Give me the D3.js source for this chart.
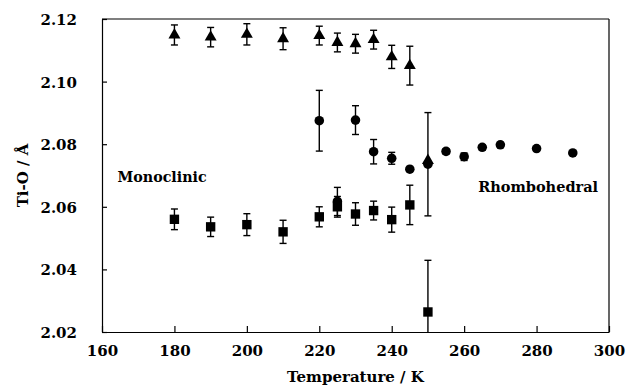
<!DOCTYPE html>
<html>
<head>
<meta charset="utf-8">
<script src="https://cdn.jsdelivr.net/npm/d3@7"></script>
<style>
  html, body { margin: 0; padding: 0; background: #fff; }
</style>
</head>
<body>
<svg id="chart" width="639" height="386"></svg>
<script>
// Ti-O bond length vs temperature: three distance series with error bars
const xTicks = [160, 180, 200, 220, 240, 260, 280, 300];
const yTicks = [2.02, 2.04, 2.06, 2.08, 2.10, 2.12];

// long Ti-O distance (triangles)
const triTemp = [180, 190, 200, 210, 220, 225, 230, 235, 240, 245, 250];
const triVal  = [2.1149, 2.1142, 2.1151, 2.1137, 2.1147, 2.1125, 2.1121, 2.1134, 2.1079, 2.1051, 2.0748];
const triErr  = [0.0032, 0.0031, 0.0034, 0.0035, 0.0030, 0.0030, 0.0030, 0.0030, 0.0037, 0.0062, 0];

// middle Ti-O distance (circles)
const cirTemp = [220, 225, 230, 235, 240, 245, 250, 255, 260, 265, 270, 280, 290];
const cirVal  = [2.0875, 2.0617, 2.0877, 2.0776, 2.0755, 2.0720, 2.0736, 2.0777, 2.0760, 2.0790, 2.0798, 2.0786, 2.0772];
const cirErr  = [0.0097, 0.0045, 0.0046, 0.0039, 0.0019, 0, 0.0165, 0.0008, 0.0012, 0.0008, 0.0008, 0.0006, 0.0006];

// short Ti-O distance (squares)
const sqTemp = [180, 190, 200, 210, 220, 225, 230, 235, 240, 245, 250];
const sqVal  = [2.0560, 2.0536, 2.0543, 2.0520, 2.0568, 2.0600, 2.0577, 2.0588, 2.0559, 2.0606, 2.0264];
const sqErr  = [0.0033, 0.0031, 0.0035, 0.0037, 0.0032, 0.0033, 0.0036, 0.0030, 0.0040, 0.0063, 0.0165];

const phaseLabels = [
  { text: "Monoclinic", t: 164.3, v: 2.0678, anchor: "start", len: 89 },
  { text: "Rhombohedral", t: 297, v: 2.0646, anchor: "end", len: 120 }
];

const FONT = "DejaVu Serif, Liberation Serif, serif";

const margin = { left: 102, right: 30, top: 19, bottom: 54 };
const W = 639, H = 386;
const svg = d3.select("#chart");

const x = d3.scaleLinear().domain([160, 300]).range([margin.left, W - margin.right]);
const y = d3.scaleLinear().domain([2.02, 2.12]).range([H - margin.bottom, margin.top]);

function serif(sel, size) {
  return sel.attr("font-family", FONT).attr("font-weight", "bold")
    .attr("font-size", size).attr("fill", "#000");
}

svg.append("defs").append("clipPath").attr("id", "plotclip")
  .append("rect")
  .attr("x", x(160)).attr("y", y(2.12))
  .attr("width", x(300) - x(160)).attr("height", y(2.02) - y(2.12));

// frame: top and right edges
svg.append("line").attr("x1", x(160)).attr("x2", x(300)).attr("y1", y(2.12)).attr("y2", y(2.12))
  .attr("stroke", "#000").attr("stroke-width", 1.2);
svg.append("line").attr("x1", x(300)).attr("x2", x(300)).attr("y1", y(2.12)).attr("y2", y(2.02))
  .attr("stroke", "#000").attr("stroke-width", 1.2);

// x axis, ticks pointing into the plot
const gx = svg.append("g").attr("transform", `translate(0,${y(2.02)})`)
  .call(d3.axisBottom(x).tickValues(xTicks).tickSizeInner(-6).tickSizeOuter(0).tickFormat(d3.format("d")));
serif(gx, 15);
gx.selectAll("text").attr("dy", null).attr("y", 24);

// y axis, ticks pointing into the plot
const gy = svg.append("g").attr("transform", `translate(${x(160)},0)`)
  .call(d3.axisLeft(y).tickValues(yTicks).tickSizeInner(-5).tickSizeOuter(0).tickFormat(d3.format(".2f")));
serif(gy, 15);
gy.selectAll("text").attr("dy", "0.36em").attr("x", -25);

[gx, gy].forEach(g => {
  g.select(".domain").attr("stroke", "#000").attr("stroke-width", 1.2);
  g.selectAll(".tick line").attr("stroke", "#000").attr("stroke-width", 1.2);
});

// axis titles
serif(svg.append("text").attr("x", (x(160) + x(300)) / 2).attr("y", 382)
  .attr("text-anchor", "middle").text("Temperature / K"), 15);
serif(svg.append("text")
  .attr("transform", `translate(28,${(y(2.02) + y(2.12)) / 2}) rotate(-90)`)
  .attr("text-anchor", "middle").text("Ti-O / Å"), 15);

const plot = svg.append("g").attr("clip-path", "url(#plotclip)");

function errorBars(temps, vals, errs) {
  const g = plot.append("g").attr("stroke", "#000").attr("stroke-width", 1.4);
  temps.forEach((t, i) => {
    if (!errs[i]) return;
    const cx = x(t), y1 = y(vals[i] + errs[i]), y2 = y(vals[i] - errs[i]);
    g.append("line").attr("x1", cx).attr("x2", cx).attr("y1", y1).attr("y2", y2);
    g.append("line").attr("x1", cx - 3.5).attr("x2", cx + 3.5).attr("y1", y1).attr("y2", y1);
    g.append("line").attr("x1", cx - 3.5).attr("x2", cx + 3.5).attr("y1", y2).attr("y2", y2);
  });
}

errorBars(sqTemp, sqVal, sqErr);
errorBars(cirTemp, cirVal, cirErr);
errorBars(triTemp, triVal, triErr);

const sqSym = d3.symbol().type(d3.symbolSquare).size(88);
const cirSym = d3.symbol().type(d3.symbolCircle).size(72);
const triSym = d3.symbol().type(d3.symbolTriangle).size(62);

plot.append("g").selectAll("path").data(sqTemp).join("path")
  .attr("d", sqSym).attr("fill", "#000")
  .attr("transform", (t, i) => `translate(${x(t)},${y(sqVal[i])})`);
plot.append("g").selectAll("path").data(cirTemp).join("path")
  .attr("d", cirSym).attr("fill", "#000")
  .attr("transform", (t, i) => `translate(${x(t)},${y(cirVal[i])})`);
plot.append("g").selectAll("path").data(triTemp).join("path")
  .attr("d", triSym).attr("fill", "#000")
  .attr("transform", (t, i) => `translate(${x(t)},${y(triVal[i])})`);

// phase annotations
serif(svg.append("g").selectAll("text").data(phaseLabels).join("text")
  .attr("x", d => x(d.t)).attr("y", d => y(d.v))
  .attr("text-anchor", d => d.anchor)
  .attr("textLength", d => d.len)
  .attr("lengthAdjust", "spacingAndGlyphs")
  .text(d => d.text), 15);
</script>
</body>
</html>
